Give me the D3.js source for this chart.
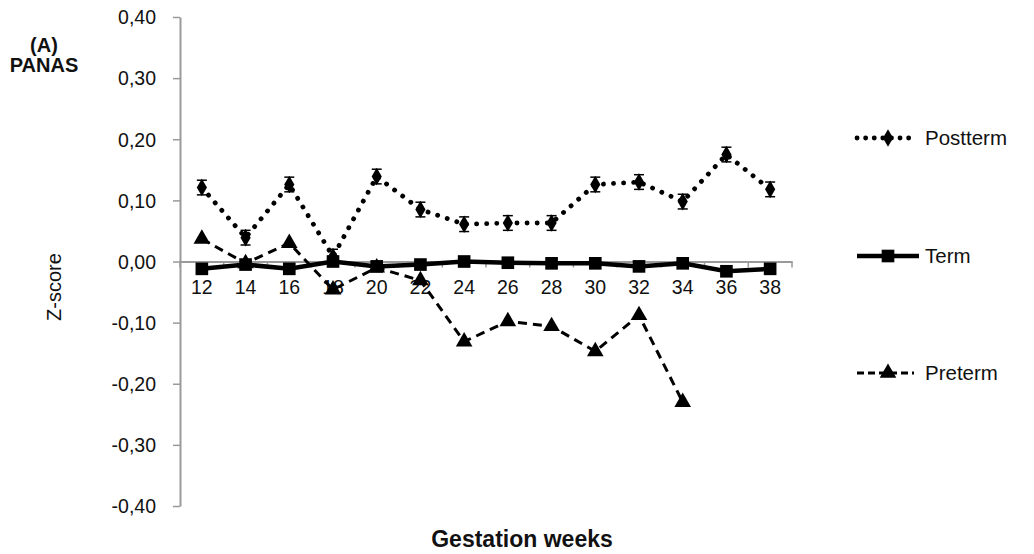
<!DOCTYPE html>
<html><head><meta charset="utf-8">
<script src="https://cdn.jsdelivr.net/npm/d3@7"></script>
<style>body{margin:0;background:#fff}svg{display:block;font-family:"Liberation Sans",Arial,sans-serif}</style>
</head><body>
<svg id="c" width="1034" height="554"></svg>
<script>
const weeks = [12,14,16,18,20,22,24,26,28,30,32,34,36,38];
const postterm = [0.121,0.039,0.126,0.008,0.139,0.085,0.061,0.063,0.063,0.126,0.130,0.098,0.175,0.118];
const posttermErr = [0.012,0.012,0.012,0.012,0.012,0.012,0.012,0.012,0.012,0.012,0.012,0.012,0.012,0.012];
const term = [-0.012,-0.005,-0.012,0.000,-0.008,-0.005,0.000,-0.002,-0.003,-0.003,-0.008,-0.003,-0.016,-0.012];
const preterm = [0.037,-0.003,0.030,-0.046,-0.010,-0.031,-0.131,-0.098,-0.106,-0.147,-0.088,-0.230,null,null];
const yTicks = [0.4,0.3,0.2,0.1,0,-0.1,-0.2,-0.3,-0.4];
const seriesNames = ["Postterm","Term","Preterm"];

const svg = d3.select("#c");
const x = d3.scaleBand().domain(weeks).range([180,792]);
const y = d3.scaleLinear().domain([-0.4,0.4]).range([506,17]);
const axisCol = "#9a9a9a";
const cx = d => x(d) + x.bandwidth()/2;

// Y axis
const ya = svg.append("g").attr("transform","translate(180,0)")
  .call(d3.axisLeft(y).tickValues(yTicks).tickSize(7).tickSizeOuter(0)
    .tickFormat(d => d3.format(".2f")(d).replace(".",",").replace("−","-")));
ya.select(".domain").attr("stroke",axisCol).attr("stroke-width",2);
ya.selectAll(".tick line").attr("stroke",axisCol).attr("stroke-width",1.5);
ya.selectAll(".tick text").attr("font-size",19.5).attr("fill","#111").attr("x",-24).attr("dy","0.35em");

// X axis on zero line
const xa = svg.append("g").attr("transform",`translate(0,${y(0)})`)
  .call(d3.axisBottom(x).tickSize(0).tickFormat(d=>d));
xa.select(".domain").attr("stroke",axisCol).attr("stroke-width",2);
xa.selectAll(".tick text").attr("font-size",19.5).attr("fill","#111").attr("y",32).attr("dy","0");
// category boundary ticks
const bounds = weeks.map(w=>x(w)).concat([x(weeks[weeks.length-1])+x.bandwidth()]);
xa.selectAll("line.bt").data(bounds).enter().append("line").attr("class","bt")
  .attr("x1",d=>d).attr("x2",d=>d).attr("y1",0).attr("y2",6)
  .attr("stroke",axisCol).attr("stroke-width",1.5);

const line = d3.line().defined(d=>d.v!=null).x(d=>cx(d.w)).y(d=>y(d.v));
const mk = arr => weeks.map((w,i)=>({w, v:arr[i], i}));

// Term
svg.append("path").datum(mk(term)).attr("d",line).attr("fill","none")
  .attr("stroke","#000").attr("stroke-width",4.5);
// Preterm
svg.append("path").datum(mk(preterm)).attr("d",line).attr("fill","none")
  .attr("stroke","#000").attr("stroke-width",3).attr("stroke-dasharray","9,6");
// Postterm
svg.append("path").datum(mk(postterm)).attr("d",line).attr("fill","none")
  .attr("stroke","#000").attr("stroke-width",4.8).attr("stroke-linecap","round").attr("stroke-dasharray","0.1,10");

// error bars postterm
const eb = svg.append("g");
mk(postterm).forEach(d=>{
  const e = posttermErr[d.i], X = cx(d.w);
  eb.append("line").attr("x1",X).attr("x2",X).attr("y1",y(d.v+e)).attr("y2",y(d.v-e)).attr("stroke","#000").attr("stroke-width",1.5);
  [d.v+e,d.v-e].forEach(v=>eb.append("line").attr("x1",X-5).attr("x2",X+5).attr("y1",y(v)).attr("y2",y(v)).attr("stroke","#000").attr("stroke-width",1.5));
});

const sym = {
  Postterm: d3.symbol().type(d3.symbolDiamond).size(90),
  Term: d3.symbol().type(d3.symbolSquare).size(160),
  Preterm: d3.symbol().type(d3.symbolTriangle).size(120)
};
svg.append("g").selectAll("path").data(mk(term)).enter().append("path")
  .attr("d",sym.Term()).attr("transform",d=>`translate(${cx(d.w)},${y(d.v)})`);
svg.append("g").selectAll("path").data(mk(preterm).filter(d=>d.v!=null)).enter().append("path")
  .attr("d",sym.Preterm()).attr("transform",d=>`translate(${cx(d.w)},${y(d.v)})`);
svg.append("g").selectAll("path").data(mk(postterm)).enter().append("path")
  .attr("d",sym.Postterm()).attr("transform",d=>`translate(${cx(d.w)},${y(d.v)})`);

// Legend
const legY = {Postterm:138, Term:256, Preterm:373};
const lg = svg.append("g");
seriesNames.forEach(n=>{
  const Y = legY[n];
  const l = lg.append("line").attr("x1",857).attr("x2",n==="Term"?919:914).attr("y1",Y).attr("y2",Y).attr("stroke","#000");
  if(n==="Postterm") l.attr("stroke-width",4.8).attr("stroke-linecap","round").attr("stroke-dasharray","0.1,8.5");
  else if(n==="Term") l.attr("stroke-width",4.5);
  else l.attr("stroke-width",3).attr("stroke-dasharray","7,4");
  lg.append("path").attr("d",sym[n]()).attr("transform",`translate(888,${Y})`);
  lg.append("text").attr("x",925).attr("y",Y).attr("dy","0.35em").attr("font-size",20.5).attr("fill","#111").text(n);
});

// titles
svg.append("text").attr("transform","translate(54,287) rotate(-90)").attr("text-anchor","middle").attr("dy","0.35em")
  .attr("font-size",20).attr("fill","#111").text("Z-score");
svg.append("text").attr("x",522).attr("y",547).attr("text-anchor","middle").attr("font-size",23).attr("font-weight","bold").attr("fill","#111").text("Gestation weeks");
svg.append("text").attr("x",44).attr("y",52).attr("text-anchor","middle").attr("font-size",20).attr("font-weight","bold").attr("fill","#111").text("(A)");
svg.append("text").attr("x",44).attr("y",72).attr("text-anchor","middle").attr("font-size",20).attr("font-weight","bold").attr("fill","#111").text("PANAS");
</script>
</body></html>
